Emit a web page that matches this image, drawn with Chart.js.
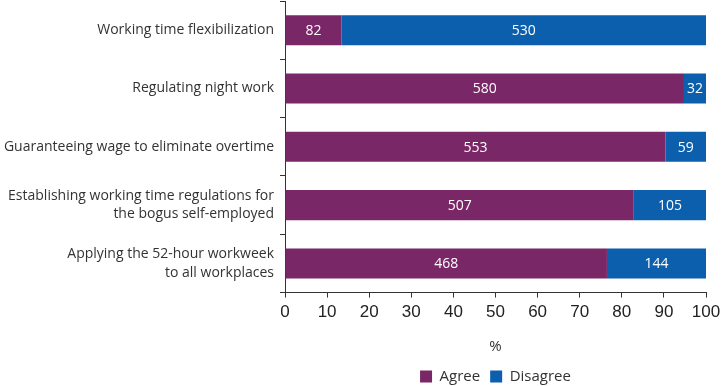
<!DOCTYPE html>
<html>
<head>
<meta charset="utf-8">
<script src="https://cdn.jsdelivr.net/npm/chart.js@4.4.0/dist/chart.umd.min.js"></script>
<style>
html,body{margin:0;padding:0;background:#fff;}
#wrap{width:721px;height:386px;position:relative;}
</style>
</head>
<body>
<div id="wrap"><canvas id="c" width="721" height="386"></canvas></div>
<script>
const categories = [
  "Working time flexibilization",
  "Regulating night work",
  "Guaranteeing wage to eliminate overtime",
  ["Establishing working time regulations for", "the bogus self-employed"],
  ["Applying the 52-hour workweek", "to all workplaces"]
];
const agreeCounts = [82, 580, 553, 507, 468];
const disagreeCounts = [530, 32, 59, 105, 144];
const xTicks = [0, 10, 20, 30, 40, 50, 60, 70, 80, 90, 100];

const totals = agreeCounts.map((a, i) => a + disagreeCounts[i]);
const agreePct = agreeCounts.map((a, i) => a / totals[i] * 100);
const disagreePct = disagreeCounts.map((d, i) => d / totals[i] * 100);

const FONT = "'Open Sans', 'Noto Sans', sans-serif";

const labelPlugin = {
  id: 'countLabels',
  afterDatasetsDraw(chart) {
    const ctx = chart.ctx;
    ctx.save();
    ctx.fillStyle = '#ffffff';
    ctx.font = "14px " + FONT;
    ctx.textAlign = 'center';
    ctx.textBaseline = 'middle';
    chart.data.datasets.forEach((ds, di) => {
      const meta = chart.getDatasetMeta(di);
      meta.data.forEach((bar, i) => {
        const x = (bar.x + bar.base) / 2;
        ctx.fillText(String(ds.counts[i]), x, bar.y + 1);
      });
    });
    ctx.restore();
  }
};

const legendCenterPlugin = {
  id: 'legendCenter',
  afterLayout(chart) {
    const l = chart.legend, ca = chart.chartArea;
    if (!l || !ca) return;
    const w = l.right - l.left;
    const c = (ca.left + ca.right) / 2;
    l.left = c - w / 2;
    l.right = c + w / 2;
  }
};

new Chart(document.getElementById('c'), {
  type: 'bar',
  data: {
    labels: categories,
    datasets: [
      { label: 'Agree', data: agreePct, counts: agreeCounts, backgroundColor: '#7a2767', borderWidth: 0 },
      { label: 'Disagree', data: disagreePct, counts: disagreeCounts, backgroundColor: '#0b5fad', borderWidth: 0 }
    ]
  },
  options: {
    indexAxis: 'y',
    responsive: false,
    animation: false,
    devicePixelRatio: 1,
    layout: { padding: { top: 1, right: 15, left: 0, bottom: -8 } },
    scales: {
      x: {
        stacked: true,
        min: 0, max: 100,
        afterBuildTicks(axis) { axis.ticks = xTicks.map(v => ({ value: v })); },
        afterFit(axis) { axis.paddingRight = 0; axis.paddingLeft = 0; },
        ticks: { color: '#222', font: { family: "'Liberation Sans', Arial, sans-serif", size: 17 }, padding: 5, maxRotation: 0 },
        grid: { display: true, drawOnChartArea: false, drawTicks: true, tickLength: 5, color: '#333', tickColor: '#333' },
        border: { display: true, color: '#333', width: 1 },
        title: { display: true, text: '%', color: '#333', font: { family: FONT, size: 15 }, padding: { top: 10, bottom: 3 } }
      },
      y: {
        stacked: true,
        afterFit(axis) { axis.width = 285; axis.paddingTop = 0; axis.paddingBottom = 0; },
        ticks: { color: '#333', font: { family: FONT, size: 14, lineHeight: 1.3 }, padding: 6 },
        grid: { display: true, drawOnChartArea: false, drawTicks: true, tickLength: 5, color: '#333', tickColor: '#333' },
        border: { display: true, color: '#333', width: 1 }
      }
    },
    datasets: { bar: { barPercentage: 0.515, categoryPercentage: 1 } },
    plugins: {
      legend: {
        position: 'bottom',
        labels: { boxWidth: 12, boxHeight: 12, color: '#333', font: { family: FONT, size: 15 }, padding: 10 }
      },
      tooltip: { enabled: false }
    }
  },
  plugins: [labelPlugin, legendCenterPlugin]
});
</script>
</body>
</html>
